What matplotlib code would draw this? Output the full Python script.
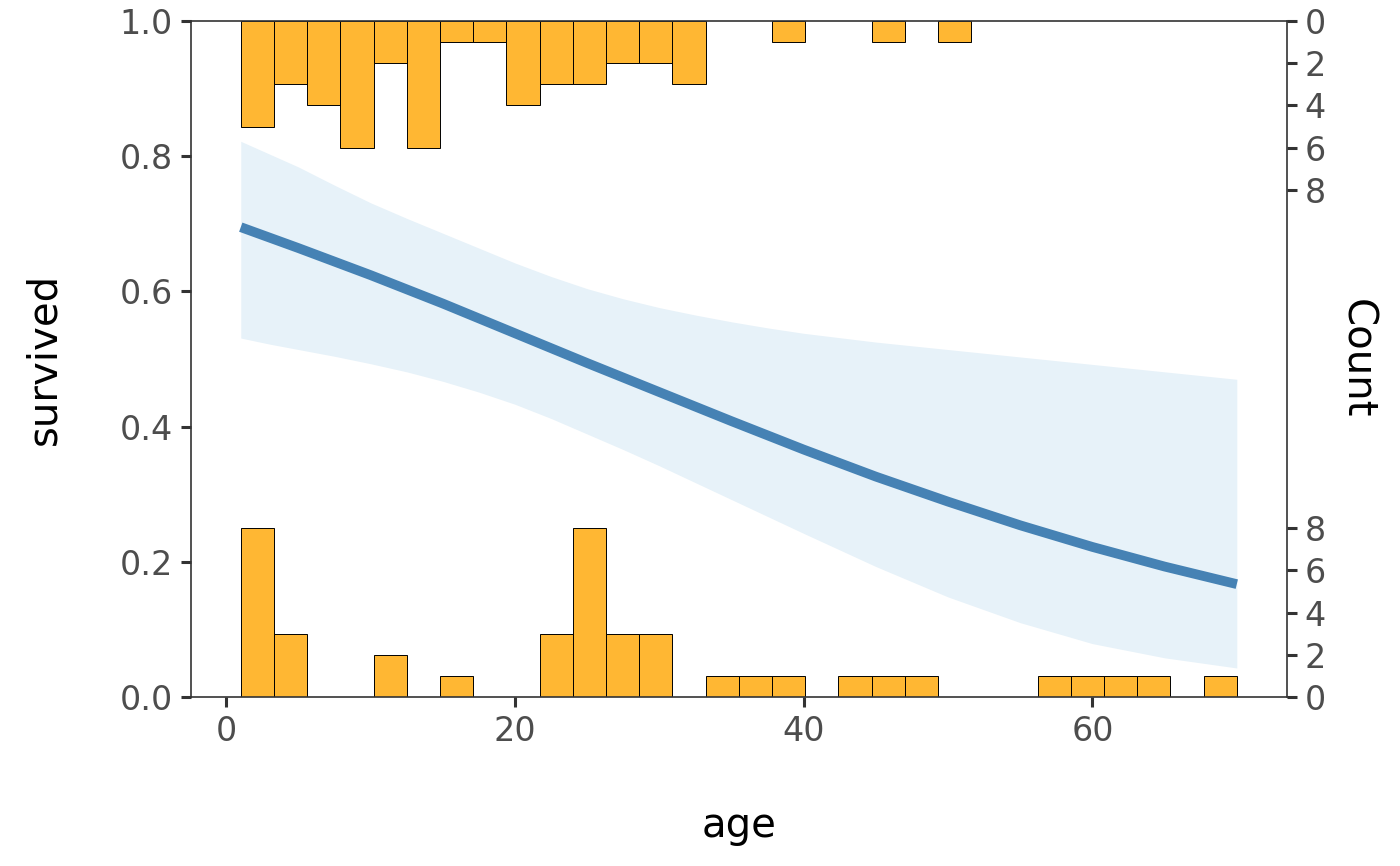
import numpy as np
import matplotlib
matplotlib.use("Agg")
import matplotlib.pyplot as plt

# histogram of age by outcome, 30 bins between 1 and 70
bin_lo, bin_hi, n_bins = 1, 70, 30
count_died = [8, 3, 0, 0, 2, 0, 1, 0, 0, 3, 8, 3, 3, 0, 1, 1, 1, 0, 1, 1,
              1, 0, 0, 0, 1, 1, 1, 1, 0, 1]
count_survived = [5, 3, 4, 6, 2, 6, 1, 1, 4, 3, 3, 2, 2, 3, 0, 0, 1, 0, 0, 1,
                  0, 1, 0, 0, 0, 0, 0, 0, 0, 0]

# fitted logistic curve
age = [1, 5, 10, 15, 20, 25, 30, 35, 40, 45, 50, 55, 60, 65, 70]
fit = [0.695, 0.664, 0.624, 0.582, 0.538, 0.494, 0.451, 0.408, 0.366,
       0.326, 0.289, 0.254, 0.222, 0.193, 0.167]

# confidence band
band_age = [1, 3, 5, 7.5, 10, 12.5, 15, 17.5, 20, 22.5, 25, 27.5, 30, 32.5,
            35, 37.5, 40, 45, 50, 55, 60, 65, 70]
upper = [0.822, 0.803, 0.784, 0.757, 0.731, 0.708, 0.686, 0.664, 0.642,
         0.622, 0.604, 0.589, 0.576, 0.565, 0.555, 0.546, 0.538, 0.525,
         0.514, 0.503, 0.492, 0.481, 0.470]
lower = [0.531, 0.522, 0.514, 0.504, 0.493, 0.481, 0.467, 0.451, 0.433,
         0.412, 0.389, 0.366, 0.342, 0.317, 0.292, 0.267, 0.242, 0.193,
         0.148, 0.110, 0.079, 0.058, 0.043]

count_ticks = [0, 2, 4, 6, 8]
count_scale = 1 / 32  # y units per count

bar_col = "#FFB733"
line_col = "#4682B4"
band_col = "#E7F2F9"
axis_col = "#333333"
tick_col = "#4D4D4D"

fig = plt.figure(figsize=(14, 8.66), dpi=100)
ax = fig.add_axes([0.1364, 0.1951, 0.7826, 0.7807])

edges = np.linspace(bin_lo, bin_hi, n_bins + 1)
width = edges[1] - edges[0]

ax.fill_between(band_age, lower, upper, color=band_col, lw=0, zorder=1)

for i in range(n_bins):
    if count_died[i] > 0:
        ax.bar(edges[i], count_died[i] * count_scale, width=width, bottom=0,
               align="edge", color=bar_col, edgecolor="black", lw=0.7, zorder=2)
    if count_survived[i] > 0:
        ax.bar(edges[i], -count_survived[i] * count_scale, width=width, bottom=1,
               align="edge", color=bar_col, edgecolor="black", lw=0.7, zorder=2)

ax.plot(age, fit, color=line_col, lw=7, solid_capstyle="butt", zorder=3)

ax.set_xlim(bin_lo - 0.05 * (bin_hi - bin_lo), bin_hi + 0.05 * (bin_hi - bin_lo))
ax.set_ylim(0, 1)
ax.set_xticks([0, 20, 40, 60])
ax.set_yticks([0, 0.2, 0.4, 0.6, 0.8, 1.0])
ax.set_yticklabels(["0.0", "0.2", "0.4", "0.6", "0.8", "1.0"])

for s in ax.spines.values():
    s.set_color(axis_col)
    s.set_linewidth(1.2)
    s.set_zorder(4)

ax.tick_params(axis="both", direction="out", length=7, width=2.2,
               color=axis_col, labelcolor=tick_col, labelsize=24, pad=6)

ax.set_xlabel("age", fontsize=29, labelpad=42)
ax.set_ylabel("survived", fontsize=29, labelpad=40)

ax2 = ax.twinx()
ax2.set_ylim(0, 1)
pos = [c * count_scale for c in count_ticks] + [1 - c * count_scale for c in count_ticks]
ax2.set_yticks(pos)
ax2.set_yticklabels([str(c) for c in count_ticks] * 2)
ax2.tick_params(axis="y", direction="out", length=7, width=2.2,
                color=axis_col, labelcolor=tick_col, labelsize=24, pad=6)
for s in ax2.spines.values():
    s.set_visible(False)
ax2.set_ylabel("Count", fontsize=29, rotation=270, labelpad=36)

fig.savefig("out.png", dpi=100)
